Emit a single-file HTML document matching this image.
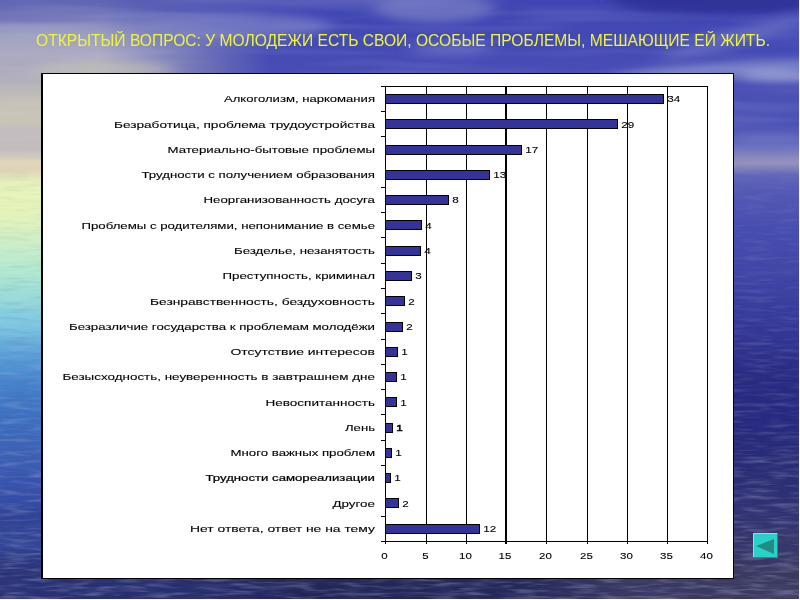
<!DOCTYPE html>
<html lang="ru">
<head>
<meta charset="utf-8">
<title>Открытый вопрос</title>
<style>
html,body{margin:0;padding:0;}
body{width:800px;height:600px;overflow:hidden;background:#fff;position:relative;font-family:"Liberation Sans",sans-serif;}
#bg{position:absolute;left:0;top:0;width:799px;height:599px;overflow:hidden;background:linear-gradient(to bottom,rgb(62,68,177) 0px,rgb(66,72,180) 30px,rgb(74,80,181) 88px,rgb(74,80,180) 125px,rgb(92,97,186) 140px,rgb(104,109,186) 150px,rgb(134,134,186) 157px,rgb(148,144,186) 163px,rgb(130,130,189) 168px,rgb(98,103,186) 175px,rgb(85,90,181) 190px,rgb(80,85,180) 205px,rgb(72,78,177) 225px,rgb(64,69,166) 275px,rgb(58,62,160) 300px,rgb(52,56,152) 325px,rgb(48,50,142) 350px,rgb(40,43,130) 375px,rgb(38,41,126) 425px,rgb(41,44,118) 460px,rgb(48,50,115) 510px,rgb(54,54,104) 550px,rgb(57,57,95) 599px);}
#bgl{position:absolute;left:0;top:0;width:799px;height:599px;background:linear-gradient(to bottom,rgb(96,101,180) 0px,rgb(105,110,181) 12px,rgb(116,119,183) 20px,rgb(142,145,190) 26px,rgb(158,160,191) 35px,rgb(166,166,193) 45px,rgb(172,171,194) 55px,rgb(172,170,188) 65px,rgb(170,169,186) 72px,rgb(178,176,186) 80px,rgb(186,184,184) 90px,rgb(197,192,182) 100px,rgb(200,195,181) 110px,rgb(202,196,183) 122px,rgb(195,188,189) 130px,rgb(193,187,189) 150px,rgb(206,200,186) 156px,rgb(224,214,185) 162px,rgb(225,210,186) 169px,rgb(226,228,186) 176px,rgb(229,241,185) 182px,rgb(232,245,185) 195px,rgb(230,243,186) 215px,rgb(222,242,190) 225px,rgb(212,240,195) 235px,rgb(204,239,200) 245px,rgb(194,237,204) 255px,rgb(184,236,206) 265px,rgb(175,232,210) 275px,rgb(165,228,212) 285px,rgb(155,222,215) 295px,rgb(145,215,220) 305px,rgb(133,208,224) 315px,rgb(124,199,224) 325px,rgb(113,188,223) 335px,rgb(101,172,219) 345px,rgb(91,160,215) 355px,rgb(82,150,212) 365px,rgb(75,140,209) 375px,rgb(70,130,204) 385px,rgb(67,122,199) 395px,rgb(64,118,197) 405px,rgb(61,114,194) 415px,rgb(59,107,189) 430px,rgb(59,101,185) 445px,rgb(58,93,180) 465px,rgb(55,85,175) 480px,rgb(54,79,169) 495px,rgb(50,74,163) 505px,rgb(47,66,150) 515px,rgb(49,68,150) 530px,rgb(50,70,152) 545px,rgb(45,60,136) 555px,rgb(45,56,130) 565px,rgb(42,52,114) 580px,rgb(45,50,100) 599px);
-webkit-mask-image:linear-gradient(to right,#000 0px,#000 100px,rgba(0,0,0,.7) 150px,transparent 270px);
mask-image:linear-gradient(to right,#000 0px,#000 100px,rgba(0,0,0,.7) 150px,transparent 270px);}
#bgb{position:absolute;left:0;top:560px;width:799px;height:39px;background:linear-gradient(to right,rgb(40,50,118) 0px,rgb(38,46,110) 200px,rgb(34,38,88) 300px,rgb(36,40,90) 520px,rgb(56,56,98) 620px,rgb(58,58,96) 799px);
-webkit-mask-image:linear-gradient(to bottom,transparent 0px,#000 18px);mask-image:linear-gradient(to bottom,transparent 0px,#000 18px);}
.chart{position:absolute;left:0;top:0;}
.lab text{font-family:"Liberation Sans",sans-serif;font-size:9.2px;fill:#000;stroke:#000;stroke-width:0.1px;}
.title{font-family:"Liberation Sans",sans-serif;font-size:16.4px;fill:#eef53c;}
</style>
</head>
<body>
<div id="bg"></div>
<div id="bgl"></div>
<div id="bgb"></div>
<svg class="chart" width="799" height="599" viewBox="0 0 799 599"><defs><filter id="bl" x="-50%" y="-200%" width="200%" height="500%"><feGaussianBlur stdDeviation="9 4"/></filter>
<filter id="rip" x="0" y="0" width="100%" height="100%"><feTurbulence type="fractalNoise" baseFrequency="0.035 0.28" numOctaves="2" seed="7" result="n"/><feColorMatrix in="n" type="matrix" values="0 0 0 0 0.62  0 0 0 0 0.64  0 0 0 0 0.8  2.4 0 0 0 -1.1"/></filter>
<filter id="rip2" x="0" y="0" width="100%" height="100%"><feTurbulence type="fractalNoise" baseFrequency="0.006 0.09" numOctaves="2" seed="3" result="n"/><feColorMatrix in="n" type="matrix" values="0 0 0 0 0.8  0 0 0 0 0.82  0 0 0 0 0.92  2.0 0 0 0 -0.9"/></filter>
<filter id="rip3" x="0" y="0" width="100%" height="100%"><feTurbulence type="fractalNoise" baseFrequency="0.03 0.25" numOctaves="2" seed="21" result="n"/><feColorMatrix in="n" type="matrix" values="0 0 0 0 0.1  0 0 0 0 0.1  0 0 0 0 0.3  2.4 0 0 0 -1.1"/></filter>
<linearGradient id="rm" x1="0" y1="0" x2="0" y2="1"><stop offset="0" stop-color="#fff" stop-opacity="0.15"/><stop offset="0.5" stop-color="#fff" stop-opacity="0.5"/><stop offset="1" stop-color="#fff" stop-opacity="0.9"/></linearGradient>
<mask id="rmk"><rect x="0" y="170" width="799" height="429" fill="url(#rm)"/></mask>
</defs>
<g mask="url(#rmk)"><rect x="0" y="170" width="799" height="429" filter="url(#rip)" opacity="0.4"/></g>
<g mask="url(#rmk)"><rect x="0" y="170" width="799" height="429" filter="url(#rip3)" opacity="0.4"/></g>
<rect x="0" y="0" width="799" height="165" filter="url(#rip2)" opacity="0.14"/><g filter="url(#bl)"><ellipse cx="300" cy="0" rx="150" ry="7" fill="rgb(108,113,190)" fill-opacity="0.6" transform="rotate(0 300 0)"/><ellipse cx="720" cy="0" rx="110" ry="14" fill="rgb(44,48,150)" fill-opacity="0.9" transform="rotate(0 720 0)"/><ellipse cx="235" cy="26" rx="95" ry="13" fill="rgb(132,137,200)" fill-opacity="0.6" transform="rotate(0 235 26)"/><ellipse cx="435" cy="8" rx="60" ry="14" fill="rgb(124,130,196)" fill-opacity="0.7" transform="rotate(0 435 8)"/><ellipse cx="450" cy="50" rx="40" ry="7" fill="rgb(110,115,200)" fill-opacity="0.6" transform="rotate(0 450 50)"/><ellipse cx="735" cy="38" rx="80" ry="7" fill="rgb(112,118,196)" fill-opacity="0.6" transform="rotate(-16 735 38)"/><ellipse cx="720" cy="70" rx="110" ry="7" fill="rgb(138,144,206)" fill-opacity="0.8" transform="rotate(-4 720 70)"/><ellipse cx="785" cy="76" rx="45" ry="5" fill="rgb(165,170,214)" fill-opacity="0.85" transform="rotate(0 785 76)"/><ellipse cx="105" cy="69" rx="70" ry="7" fill="rgb(196,196,182)" fill-opacity="0.6" transform="rotate(0 105 69)"/><ellipse cx="770" cy="139" rx="40" ry="4" fill="rgb(120,125,200)" fill-opacity="0.7" transform="rotate(0 770 139)"/></g></svg>
<svg class="chart" width="800" height="600" viewBox="0 0 800 600">
<rect x="42" y="73.5" width="691.5" height="505" fill="#fff" stroke="#000" stroke-width="1"/>
<rect x="41" y="73" width="2" height="506" fill="#000"/>
<g shape-rendering="crispEdges" stroke="#000" stroke-width="1" fill="none">
<rect x="385" y="86" width="1" height="458" fill="#000" stroke="none"/>
<rect x="426" y="86" width="1" height="458" fill="#000" stroke="none"/>
<rect x="466" y="86" width="1" height="458" fill="#000" stroke="none"/>
<rect x="505" y="86" width="2" height="458" fill="#000" stroke="none"/>
<rect x="546" y="86" width="1" height="458" fill="#000" stroke="none"/>
<rect x="587" y="86" width="1" height="458" fill="#000" stroke="none"/>
<rect x="627" y="86" width="1" height="458" fill="#000" stroke="none"/>
<rect x="667" y="86" width="1" height="458" fill="#000" stroke="none"/>
<rect x="707" y="86" width="1" height="458" fill="#000" stroke="none"/>
<rect x="385" y="86" width="323" height="1" fill="#000" stroke="none"/>
<rect x="385" y="541" width="323" height="1" fill="#000" stroke="none"/>
<rect x="381" y="86" width="4" height="1" fill="#000" stroke="none"/>
<rect x="381" y="111" width="4" height="1" fill="#000" stroke="none"/>
<rect x="381" y="136" width="4" height="1" fill="#000" stroke="none"/>
<rect x="381" y="187" width="4" height="1" fill="#000" stroke="none"/>
<rect x="381" y="212" width="4" height="1" fill="#000" stroke="none"/>
<rect x="381" y="237" width="4" height="1" fill="#000" stroke="none"/>
<rect x="381" y="263" width="4" height="1" fill="#000" stroke="none"/>
<rect x="381" y="288" width="4" height="1" fill="#000" stroke="none"/>
<rect x="381" y="313" width="4" height="1" fill="#000" stroke="none"/>
<rect x="381" y="339" width="4" height="1" fill="#000" stroke="none"/>
<rect x="381" y="364" width="4" height="1" fill="#000" stroke="none"/>
<rect x="381" y="389" width="4" height="1" fill="#000" stroke="none"/>
<rect x="381" y="414" width="4" height="1" fill="#000" stroke="none"/>
<rect x="381" y="440" width="4" height="1" fill="#000" stroke="none"/>
<rect x="381" y="465" width="4" height="1" fill="#000" stroke="none"/>
<rect x="381" y="516" width="4" height="1" fill="#000" stroke="none"/>
<rect x="381" y="541" width="4" height="1" fill="#000" stroke="none"/>
</g>
<g shape-rendering="crispEdges">
<rect x="385" y="94" width="279" height="10" fill="#000"/>
<rect x="386" y="95" width="277" height="8" fill="#333399"/>
<rect x="385" y="119" width="233" height="10" fill="#000"/>
<rect x="386" y="120" width="231" height="8" fill="#333399"/>
<rect x="385" y="145" width="137" height="10" fill="#000"/>
<rect x="386" y="146" width="135" height="8" fill="#333399"/>
<rect x="385" y="170" width="105" height="10" fill="#000"/>
<rect x="386" y="171" width="103" height="8" fill="#333399"/>
<rect x="385" y="195" width="64" height="10" fill="#000"/>
<rect x="386" y="196" width="62" height="8" fill="#333399"/>
<rect x="385" y="220" width="37" height="10" fill="#000"/>
<rect x="386" y="221" width="35" height="8" fill="#333399"/>
<rect x="385" y="246" width="36" height="10" fill="#000"/>
<rect x="386" y="247" width="34" height="8" fill="#333399"/>
<rect x="385" y="271" width="27" height="10" fill="#000"/>
<rect x="386" y="272" width="25" height="8" fill="#333399"/>
<rect x="385" y="296" width="20" height="10" fill="#000"/>
<rect x="386" y="297" width="18" height="8" fill="#333399"/>
<rect x="385" y="322" width="18" height="10" fill="#000"/>
<rect x="386" y="323" width="16" height="8" fill="#333399"/>
<rect x="385" y="347" width="13" height="10" fill="#000"/>
<rect x="386" y="348" width="11" height="8" fill="#333399"/>
<rect x="385" y="372" width="12" height="10" fill="#000"/>
<rect x="386" y="373" width="10" height="8" fill="#333399"/>
<rect x="385" y="397" width="12" height="10" fill="#000"/>
<rect x="386" y="398" width="10" height="8" fill="#333399"/>
<rect x="385" y="423" width="8" height="10" fill="#000"/>
<rect x="386" y="424" width="6" height="8" fill="#333399"/>
<rect x="385" y="448" width="7" height="10" fill="#000"/>
<rect x="386" y="449" width="5" height="8" fill="#333399"/>
<rect x="385" y="473" width="6" height="10" fill="#000"/>
<rect x="386" y="474" width="4" height="8" fill="#333399"/>
<rect x="385" y="498" width="14" height="10" fill="#000"/>
<rect x="386" y="499" width="12" height="8" fill="#333399"/>
<rect x="385" y="524" width="95" height="10" fill="#000"/>
<rect x="386" y="525" width="93" height="8" fill="#333399"/>
</g>
<g class="lab">
<text x="224" y="102.2" textLength="151" lengthAdjust="spacingAndGlyphs">Алкоголизм, наркомания</text>
<text x="114" y="127.5" textLength="261" lengthAdjust="spacingAndGlyphs">Безработица, проблема трудоустройства</text>
<text x="167.5" y="152.8" textLength="207.5" lengthAdjust="spacingAndGlyphs">Материально-бытовые проблемы</text>
<text x="141.5" y="178.1" textLength="233.5" lengthAdjust="spacingAndGlyphs">Трудности с получением образования</text>
<text x="203.5" y="203.3" textLength="171.5" lengthAdjust="spacingAndGlyphs">Неорганизованность досуга</text>
<text x="81.5" y="228.6" textLength="293.5" lengthAdjust="spacingAndGlyphs">Проблемы с родителями, непонимание в семье</text>
<text x="234" y="253.9" textLength="141" lengthAdjust="spacingAndGlyphs">Безделье, незанятость</text>
<text x="222.5" y="279.2" textLength="152.5" lengthAdjust="spacingAndGlyphs">Преступность, криминал</text>
<text x="150" y="304.5" textLength="225" lengthAdjust="spacingAndGlyphs">Безнравственность, бездуховность</text>
<text x="69" y="329.7" textLength="306" lengthAdjust="spacingAndGlyphs">Безразличие государства к проблемам молодёжи</text>
<text x="230.5" y="355.0" textLength="144.5" lengthAdjust="spacingAndGlyphs">Отсутствие интересов</text>
<text x="62.5" y="380.3" textLength="312.5" lengthAdjust="spacingAndGlyphs">Безысходность, неуверенность в завтрашнем дне</text>
<text x="265.5" y="405.6" textLength="109.5" lengthAdjust="spacingAndGlyphs">Невоспитанность</text>
<text x="345" y="430.9" textLength="30" lengthAdjust="spacingAndGlyphs">Лень</text>
<text x="230.5" y="456.1" textLength="144.5" lengthAdjust="spacingAndGlyphs">Много важных проблем</text>
<text x="205.5" y="481.4" textLength="169.5" lengthAdjust="spacingAndGlyphs" style="stroke-width:0.22px">Трудности самореализации</text>
<text x="332.5" y="506.7" textLength="42.5" lengthAdjust="spacingAndGlyphs">Другое</text>
<text x="190" y="532.0" textLength="185" lengthAdjust="spacingAndGlyphs">Нет ответа, ответ не на тему</text>
<text x="667.3" y="102.2" textLength="13.0" lengthAdjust="spacingAndGlyphs">34</text>
<text x="621.3" y="127.5" textLength="13.0" lengthAdjust="spacingAndGlyphs">29</text>
<text x="525.3" y="152.8" textLength="13.0" lengthAdjust="spacingAndGlyphs">17</text>
<text x="493.3" y="178.1" textLength="13.0" lengthAdjust="spacingAndGlyphs">13</text>
<text x="452.3" y="203.3" textLength="6.5" lengthAdjust="spacingAndGlyphs">8</text>
<text x="425.3" y="228.6" textLength="6.5" lengthAdjust="spacingAndGlyphs">4</text>
<text x="424.3" y="253.9" textLength="6.5" lengthAdjust="spacingAndGlyphs">4</text>
<text x="415.3" y="279.2" textLength="6.5" lengthAdjust="spacingAndGlyphs">3</text>
<text x="408.3" y="304.5" textLength="6.5" lengthAdjust="spacingAndGlyphs">2</text>
<text x="406.3" y="329.7" textLength="6.5" lengthAdjust="spacingAndGlyphs">2</text>
<text x="401.3" y="355.0" textLength="6.5" lengthAdjust="spacingAndGlyphs">1</text>
<text x="400.3" y="380.3" textLength="6.5" lengthAdjust="spacingAndGlyphs">1</text>
<text x="400.3" y="405.6" textLength="6.5" lengthAdjust="spacingAndGlyphs">1</text>
<text x="396.3" y="430.9" textLength="6.5" lengthAdjust="spacingAndGlyphs" style="stroke-width:0.5px">1</text>
<text x="395.3" y="456.1" textLength="6.5" lengthAdjust="spacingAndGlyphs">1</text>
<text x="394.3" y="481.4" textLength="6.5" lengthAdjust="spacingAndGlyphs">1</text>
<text x="402.3" y="506.7" textLength="6.5" lengthAdjust="spacingAndGlyphs">2</text>
<text x="483.3" y="532.0" textLength="13.0" lengthAdjust="spacingAndGlyphs">12</text>
<text x="381.3" y="559" textLength="6.4" lengthAdjust="spacingAndGlyphs">0</text>
<text x="422.3" y="559" textLength="6.4" lengthAdjust="spacingAndGlyphs">5</text>
<text x="459.1" y="559" textLength="12.8" lengthAdjust="spacingAndGlyphs">10</text>
<text x="498.6" y="559" textLength="12.8" lengthAdjust="spacingAndGlyphs">15</text>
<text x="539.1" y="559" textLength="12.8" lengthAdjust="spacingAndGlyphs">20</text>
<text x="580.1" y="559" textLength="12.8" lengthAdjust="spacingAndGlyphs">25</text>
<text x="620.1" y="559" textLength="12.8" lengthAdjust="spacingAndGlyphs">30</text>
<text x="660.1" y="559" textLength="12.8" lengthAdjust="spacingAndGlyphs">35</text>
<text x="700.1" y="559" textLength="12.8" lengthAdjust="spacingAndGlyphs">40</text>
</g>
<text class="title" x="36" y="45.7" textLength="734" lengthAdjust="spacingAndGlyphs">ОТКРЫТЫЙ ВОПРОС: У МОЛОДЕЖИ ЕСТЬ СВОИ, ОСОБЫЕ ПРОБЛЕМЫ, МЕШАЮЩИЕ ЕЙ ЖИТЬ.</text>
<g>
<rect x="753" y="533" width="25" height="25" fill="#2bd0c8"/>
<rect x="753" y="533" width="25" height="1" fill="#7fe8e2"/>
<rect x="753" y="533" width="1" height="25" fill="#7fe8e2"/>
<rect x="777" y="533" width="1" height="25" fill="#1f8f8a"/>
<rect x="753" y="557" width="25" height="1" fill="#1f8f8a"/>
<polygon points="756,546 774,539 774,554" fill="#208c84"/>
</g>
</svg>
</body>
</html>
